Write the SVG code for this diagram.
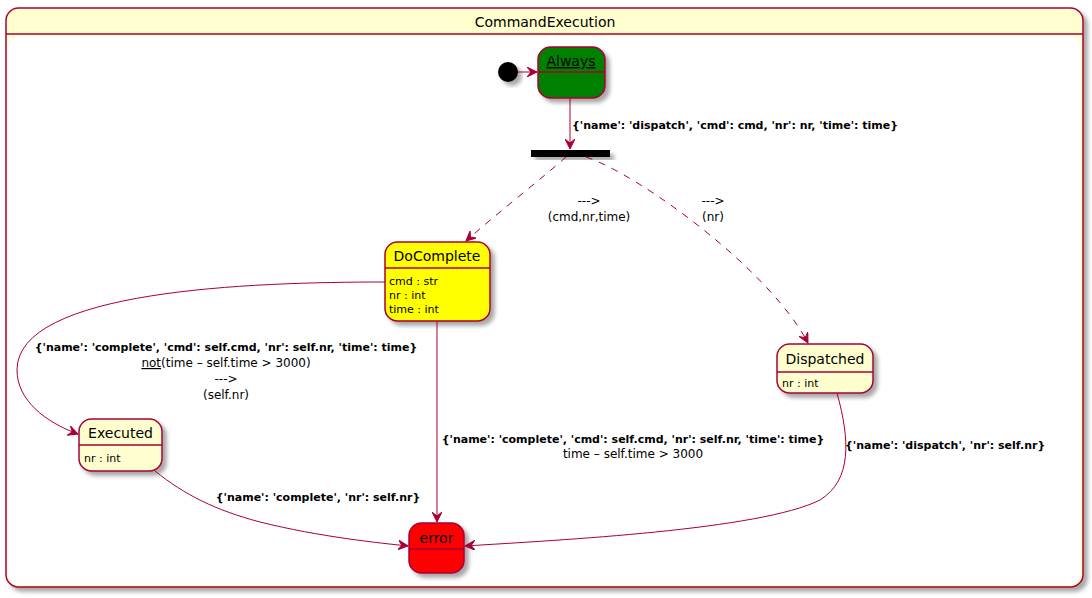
<svg xmlns="http://www.w3.org/2000/svg" width="1092" height="598" viewBox="0 0 1092 598">
<style>
text{font-family:"DejaVu Sans","Liberation Sans",sans-serif;fill:#000}
.st{fill:#FEFECE;stroke:#A80036;stroke-width:1.5}
.sep{stroke:#A80036;stroke-width:1.5}
.nm{font-size:14px;text-anchor:middle}
.at{font-size:11px}
.lb{font-size:11px;font-weight:bold}
.lr{font-size:12px}
.c{text-anchor:middle}
.e{fill:none;stroke:#A80036;stroke-width:1}
.d{stroke-dasharray:7,7}
</style>
<defs>
<filter id="sh" x="-20%" y="-20%" width="150%" height="150%">
<feGaussianBlur in="SourceAlpha" stdDeviation="2"/>
<feOffset dx="4" dy="4" result="b"/>
<feComponentTransfer><feFuncA type="linear" slope="0.35"/></feComponentTransfer>
<feMerge><feMergeNode/><feMergeNode in="SourceGraphic"/></feMerge>
</filter>
<marker id="ar" markerUnits="userSpaceOnUse" markerWidth="12" markerHeight="10" refX="10" refY="5" orient="auto" viewBox="0 0 12 10">
<path d="M0,0 L10,5 L0,10 L4,5 Z" fill="#A80036" stroke="#A80036" stroke-width="1"/>
</marker>
</defs>
<g id="CommandExecution">
<rect x="6" y="8" width="1077" height="579" rx="12.5" class="st" filter="url(#sh)"/>
<rect x="8" y="36" width="1072" height="549" rx="10" fill="#FFFFFF"/>
<line x1="6" y1="34" x2="1083" y2="34" class="sep"/>
<text x="545" y="27" class="nm">CommandExecution</text>
</g>
<g id="start">
<circle cx="508" cy="72" r="10" fill="#000" filter="url(#sh)"/>
</g>
<g id="Always">
<rect x="538" y="47" width="67" height="51" rx="12.5" fill="#008000" stroke="#A80036" stroke-width="1.5" filter="url(#sh)"/>
<line x1="538" y1="72" x2="605" y2="72" class="sep"/>
<text x="571" y="66" class="nm" text-decoration="underline">Always</text>
</g>
<g id="fork">
<rect x="531" y="150" width="79" height="7" fill="#000" filter="url(#sh)"/>
</g>
<g id="DoComplete">
<rect x="385" y="242" width="105" height="79" rx="12.5" fill="#FFFF00" stroke="#A80036" stroke-width="1.5" filter="url(#sh)"/>
<line x1="385" y1="268" x2="490" y2="268" class="sep"/>
<text x="437" y="261" class="nm">DoComplete</text>
<text x="389" y="285" class="at">cmd : str</text>
<text x="389" y="299" class="at">nr : int</text>
<text x="389" y="313" class="at">time : int</text>
</g>
<g id="Executed">
<rect x="79" y="419" width="83" height="52" rx="12.5" class="st" filter="url(#sh)"/>
<line x1="79" y1="445" x2="162" y2="445" class="sep"/>
<text x="120.5" y="438" class="nm">Executed</text>
<text x="84" y="462" class="at">nr : int</text>
</g>
<g id="Dispatched">
<rect x="777" y="344" width="96" height="49" rx="12.5" class="st" filter="url(#sh)"/>
<line x1="777" y1="372" x2="873" y2="372" class="sep"/>
<text x="825" y="364" class="nm">Dispatched</text>
<text x="782" y="387" class="at">nr : int</text>
</g>
<g id="error">
<rect x="409" y="523" width="55" height="50" rx="12.5" fill="#FF0000" stroke="#A80036" stroke-width="1.5" filter="url(#sh)"/>
<line x1="409" y1="549" x2="464" y2="549" class="sep"/>
<text x="436.5" y="543" class="nm">error</text>
</g>
<g id="connectors">
<path d="M518,72 L537,72" class="e" marker-end="url(#ar)"/>
<path d="M570,98 L570,149" class="e" marker-end="url(#ar)"/>
<path d="M566,157 C540,180 495,215 466,241" class="e d" marker-end="url(#ar)"/>
<path d="M586,157 C640,175 770,270 808,343" class="e d" marker-end="url(#ar)"/>
<path d="M385,282 C250,282 17,290 17,370 C17,400 45,422 78,434" class="e" marker-end="url(#ar)"/>
<path d="M437,321 L437,522" class="e" marker-end="url(#ar)"/>
<path d="M155,471 C185,495 215,510 260,522 C320,537 380,543 408,546" class="e" marker-end="url(#ar)"/>
<path d="M837,393 C850,440 852,480 820,500 C760,530 560,540 465,546" class="e" marker-end="url(#ar)"/>
<text x="572" y="129" class="lb">{'name': 'dispatch', 'cmd': cmd, 'nr': nr, 'time': time}</text>
<text x="589" y="205" class="lr c">---&gt;</text>
<text x="589" y="221" class="lr c">(cmd,nr,time)</text>
<text x="713" y="205" class="lr c">---&gt;</text>
<text x="713" y="221" class="lr c">(nr)</text>
<text x="226" y="351" class="lb c">{'name': 'complete', 'cmd': self.cmd, 'nr': self.nr, 'time': time}</text>
<text x="226" y="367" class="lr c"><tspan text-decoration="underline">not</tspan>(time – self.time &gt; 3000)</text>
<text x="226" y="383" class="lr c">---&gt;</text>
<text x="226" y="399" class="lr c">(self.nr)</text>
<text x="633" y="443" class="lb c">{'name': 'complete', 'cmd': self.cmd, 'nr': self.nr, 'time': time}</text>
<text x="633" y="458" class="lr c">time – self.time &gt; 3000</text>
<text x="318" y="501" class="lb c">{'name': 'complete', 'nr': self.nr}</text>
<text x="845" y="449" class="lb">{'name': 'dispatch', 'nr': self.nr}</text>
</g>
</svg>
